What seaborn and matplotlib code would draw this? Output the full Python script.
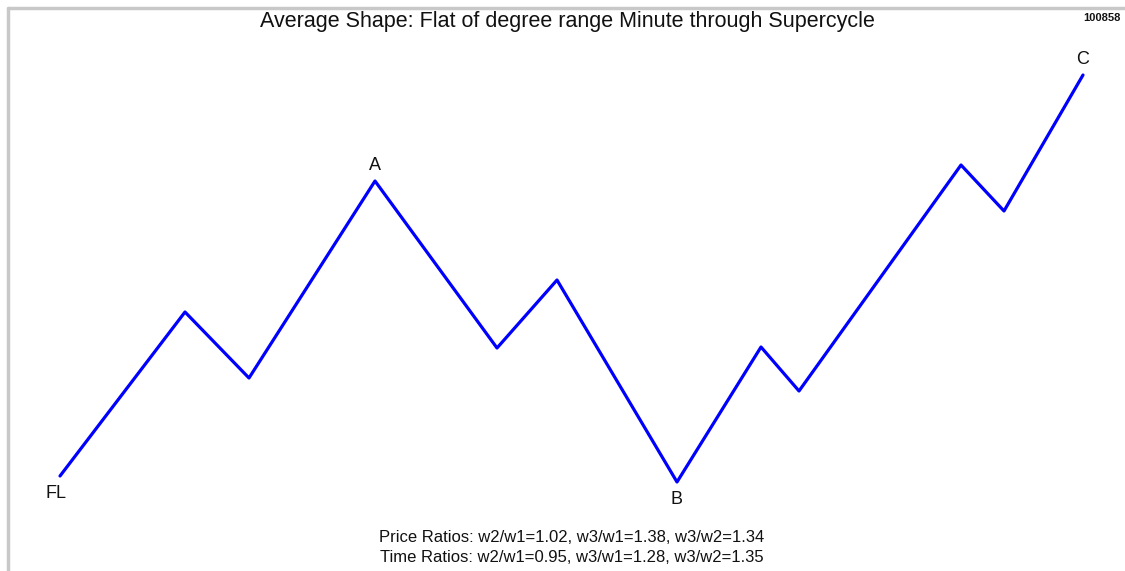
import matplotlib
matplotlib.use("Agg")
import matplotlib.pyplot as plt
from matplotlib.lines import Line2D
import seaborn as sns
import pandas as pd

# Wave pivots (time, price)
time = [60, 185, 249, 375, 497, 557, 677, 761, 799, 961, 1004, 1083]
price = [95, 259, 193, 390, 223, 291, 89, 224, 180, 406, 360, 496]
labels = {0: "FL", 3: "A", 6: "B", 11: "C"}
label_pos = {0: "below", 3: "above", 6: "below", 11: "above"}

title = "Average Shape: Flat of degree range Minute through Supercycle"
corner_id = "100858"
price_ratios = "Price Ratios: w2/w1=1.02, w3/w1=1.38, w3/w2=1.34"
time_ratios = "Time Ratios: w2/w1=0.95, w3/w1=1.28, w3/w2=1.35"

sns.set_theme(style="white")
plt.rcParams['font.family'] = ['Liberation Sans', 'DejaVu Sans']

fig = plt.figure(figsize=(11.25, 5.71), dpi=100)
ax = fig.add_axes([0, 0, 1, 1])
df = pd.DataFrame({"time": time, "price": price})
sns.lineplot(data=df, x="time", y="price", sort=False, color="#0000ff",
             linewidth=2.3, ax=ax, estimator=None)
ax.set_xlim(0, 1125)
ax.set_ylim(0, 571)
ax.axis("off")

for i, lab in labels.items():
    off = 15 if label_pos[i] == "above" else -17
    ax.text(time[i] - (4 if i == 0 else 0), price[i] + off, lab, ha="center",
            va="center", fontsize=13, color="#111111")

fig.text(567 / 1125, 1 - 22 / 571, title, ha="center", va="center",
         fontsize=15.5, color="#111111")
fig.text(1083 / 1125, 1 - 18 / 571, corner_id, ha="left", va="center",
         fontsize=8, fontweight="bold", color="#111111")
fig.text(572 / 1125, 1 - 537 / 571, price_ratios, ha="center", va="center",
         fontsize=12, color="#111111")
fig.text(572 / 1125, 1 - 557 / 571, time_ratios, ha="center", va="center",
         fontsize=12, color="#111111")

# gray frame on top and left
fig.add_artist(Line2D([7.5 / 1125, 7.5 / 1125], [0, 1 - 7.5 / 571],
                      transform=fig.transFigure, color="#c8c8c8", linewidth=2.5))
fig.add_artist(Line2D([7.5 / 1125, 1], [1 - 7.5 / 571, 1 - 7.5 / 571],
                      transform=fig.transFigure, color="#c8c8c8", linewidth=2.5))

fig.savefig("out.png", dpi=100, facecolor="white")
